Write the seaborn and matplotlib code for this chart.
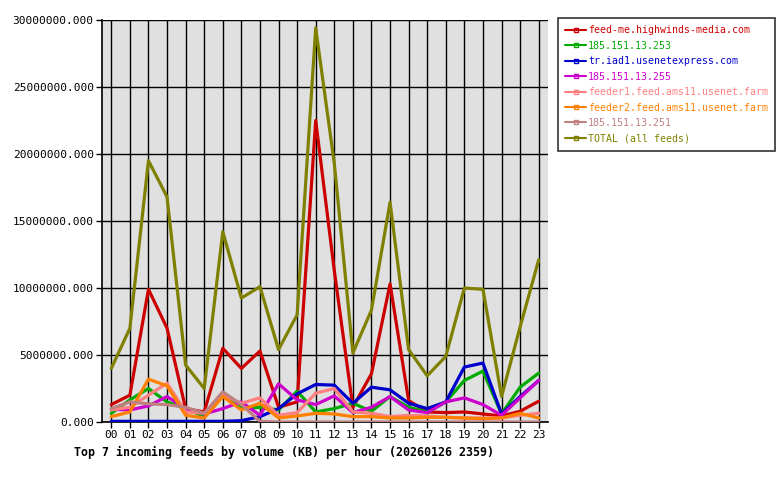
import matplotlib
matplotlib.use("Agg")
import matplotlib.pyplot as plt
from matplotlib.lines import Line2D
import seaborn as sns
import pandas as pd

hours = ["00","01","02","03","04","05","06","07","08","09","10","11",
         "12","13","14","15","16","17","18","19","20","21","22","23"]

feeds = ["feed-me.highwinds-media.com", "185.151.13.253", "tr.iad1.usenetexpress.com",
         "185.151.13.255", "feeder1.feed.ams11.usenet.farm", "feeder2.feed.ams11.usenet.farm",
         "185.151.13.251", "TOTAL (all feeds)"]

highwinds = [1.3, 2.0, 9.9, 7.0, 1.0, 0.75, 5.5, 4.0, 5.3, 1.1, 1.5, 22.5,
             11.3, 1.1, 3.6, 10.3, 1.6, 0.75, 0.7, 0.75, 0.6, 0.45, 0.8, 1.55]
ip253 = [0.65, 1.65, 2.5, 1.5, 1.0, 0.4, 2.1, 1.0, 1.1, 0.9, 2.3, 0.75,
         1.0, 1.4, 0.8, 1.9, 1.1, 0.75, 1.5, 3.1, 3.8, 0.6, 2.6, 3.65]
usenetexpress = [0.05, 0.05, 0.05, 0.05, 0.05, 0.05, 0.05, 0.1, 0.4, 1.0, 2.1, 2.8,
                 2.75, 1.4, 2.6, 2.4, 1.4, 1.0, 1.5, 4.1, 4.4, 0.6, 1.9, 3.1]
ip255 = [0.95, 0.9, 1.2, 1.9, 1.0, 0.6, 1.0, 1.5, 0.5, 2.85, 1.65, 1.3,
         1.95, 0.7, 1.1, 1.9, 0.9, 0.7, 1.5, 1.8, 1.3, 0.5, 1.8, 3.1]
feeder1 = [0.9, 1.1, 2.0, 2.9, 0.75, 0.65, 2.0, 1.4, 1.8, 0.5, 0.7, 2.15,
           2.5, 0.75, 0.65, 0.4, 0.5, 0.45, 0.35, 0.3, 0.3, 0.3, 0.5, 0.65]
feeder2 = [0.4, 0.75, 3.2, 2.7, 0.5, 0.3, 1.9, 0.9, 1.4, 0.3, 0.45, 0.65,
           0.6, 0.4, 0.4, 0.3, 0.3, 0.35, 0.35, 0.3, 0.25, 0.3, 0.65, 0.3]
ip251 = [1.0, 1.5, 1.35, 1.3, 1.1, 0.65, 2.25, 1.3, 0.05, 0.0, 0.0, 0.0,
         0.0, 0.0, 0.0, 0.0, 0.0, 0.0, 0.0, 0.0, 0.0, 0.0, 0.0, 0.0]
total = [4.0, 7.0, 19.5, 16.8, 4.25, 2.5, 14.2, 9.25, 10.1, 5.4, 8.0, 29.4,
         19.3, 5.15, 8.35, 16.4, 5.4, 3.45, 4.9, 10.0, 9.9, 1.9, 7.1, 12.1]

series = [highwinds, ip253, usenetexpress, ip255, feeder1, feeder2, ip251, total]
colors = ["#CC0000", "#00AA00", "#0000CC", "#CC00CC", "#FF8080", "#FF8000", "#C08080", "#808000"]

rows = []
for name, vals in zip(feeds, series):
    for i, v in enumerate(vals):
        rows.append({"hour": i, "feed": name, "kb": v * 1e6})
df = pd.DataFrame(rows)

sns.set_style("white")
plt.rcParams["font.family"] = ["DejaVu Sans Mono"]

fig = plt.figure(figsize=(7.8, 4.8), dpi=100)
ax = fig.add_axes([102/780, 1 - 422/480, 446/780, 402/480])
ax.set_facecolor("#E0E0E0")

sns.lineplot(data=df, x="hour", y="kb", hue="feed", hue_order=feeds,
             palette=dict(zip(feeds, colors)), linewidth=2.3, ax=ax,
             legend=False, zorder=3)

ax.set_xlim(-0.5, 23.5)
ax.set_ylim(0, 30e6)
ax.set_xticks(range(24))
ax.set_xticklabels(hours)
yt = [0, 5e6, 10e6, 15e6, 20e6, 25e6, 30e6]
ax.set_yticks(yt)
ax.set_yticklabels([f"{v:.3f}" for v in yt])
ax.grid(True, color="black", linewidth=1.0, zorder=1)
ax.set_axisbelow(True)
ax.tick_params(axis="both", direction="out", length=4, width=1, colors="black",
               labelsize=8, pad=2, left=True, bottom=True)
for s in ["left", "bottom"]:
    ax.spines[s].set_color("black")
    ax.spines[s].set_linewidth(1.2)
ax.spines["right"].set_visible(False)
ax.spines["top"].set_visible(False)
ax.set_xlabel("")
ax.set_ylabel("")

fig.text(74/780, 1 - 452/480, "Top 7 incoming feeds by volume (KB) per hour (20260126 2359)",
         fontsize=8.4, fontweight="bold", va="center", ha="left", color="black")

handles = [Line2D([0], [0], color=c, linewidth=1.5, marker="s", markersize=3,
                  markerfacecolor="none", markeredgewidth=1) for c in colors]
leg = fig.legend(handles, feeds, loc="upper left", bbox_to_anchor=(558/780, 1 - 18/480),
                 frameon=True, fancybox=False, edgecolor="black", fontsize=7.1,
                 handlelength=2.1, handletextpad=0.2, labelspacing=0.55,
                 borderpad=0.75, borderaxespad=0)
leg.get_frame().set_linewidth(1.2)
for t, c in zip(leg.get_texts(), colors):
    t.set_color(c)

fig.savefig("out.png", dpi=100, facecolor="white")
